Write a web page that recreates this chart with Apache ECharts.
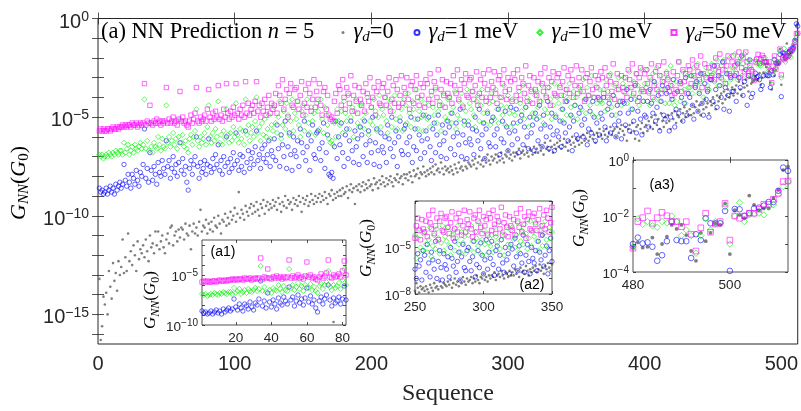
<!DOCTYPE html>
<html><head><meta charset="utf-8">
<script src="https://cdn.jsdelivr.net/npm/echarts@6/dist/echarts.min.js"></script>
<style>html,body{margin:0;padding:0;background:#fff}#c{width:801px;height:411px}</style>
</head><body><div id="c"></div>
<script>
// log10 of G_NN (in units of G0), sequence index = position + 1 (1..512)
const logG_gamma0 = [
-13.2,-16.3,-15.6,-14.1,-14.5,-13.9,-15.0,-12.8,-13.6,-14.2,-12.4,-13.3,-12.9,-13.8,-12.3,-13.0,
-12.6,-11.2,-12.9,-12.1,-12.8,-10.9,-12.3,-11.8,-12.5,-11.5,-12.0,-12.8,-11.3,-12.2,-11.7,-11.9,
-11.5,-12.1,-11.2,-11.8,-12.3,-11.0,-11.6,-11.4,-11.9,-10.8,-11.5,-10.8,-11.7,-11.3,-11.0,-11.6,
-11.9,-11.2,-10.9,-11.4,-10.6,-10.5,-11.5,-11.0,-10.8,-11.3,-10.7,-11.1,-10.6,-10.7,-11.2,-10.4,
-10.9,-11.0,-10.5,-11.7,-10.8,-10.4,-10.9,-10.6,-11.0,-10.3,-9.7,-10.8,-10.5,-10.6,-10.2,-10.9,
-10.4,-10.7,-10.3,-10.8,-10.1,-10.5,-10.6,-10.0,-10.4,-10.9,-10.2,-10.3,-9.9,-10.5,-10.1,-10.4,
-9.8,-10.2,-10.0,-9.6,-10.3,-9.9,-8.8,-10.1,-9.7,-9.9,-10.2,-9.5,-9.8,-10.0,-9.6,-9.4,
-9.9,-9.5,-9.8,-9.3,-9.7,-10.0,-9.4,-9.6,-9.2,-9.9,-9.5,-9.3,-9.7,-9.4,-9.6,-9.2,
-9.5,-9.3,-9.7,-9.1,-9.4,-9.8,-9.3,-9.5,-9.0,-9.6,-9.2,-9.4,-9.3,-9.7,-9.1,-9.4,
-9.2,-9.5,-9.0,-9.3,-9.8,-9.1,-9.4,-9.2,-9.0,-9.5,-9.3,-8.9,-9.2,-9.4,-9.0,-9.3,
-9.1,-8.9,-9.3,-9.0,-9.2,-8.8,-9.1,-9.4,-8.9,-9.0,-8.7,-9.2,-8.9,-9.1,-8.8,-9.0,
-8.7,-9.0,-8.6,-8.9,-8.8,-8.5,-9.1,-8.7,-8.4,-8.8,-8.6,-9.4,-8.5,-8.7,-8.4,-8.8,
-8.5,-8.3,-8.7,-8.4,-8.6,-8.2,-8.5,-8.4,-8.7,-8.1,-8.4,-8.3,-8.6,-8.2,-8.4,-8.0,
-8.3,-8.5,-8.1,-8.4,-8.2,-8.0,-8.3,-8.5,-8.1,-8.2,-7.9,-8.3,-8.1,-8.0,-8.4,-7.9,
-8.1,-7.9,-8.2,-7.8,-8.0,-8.3,-7.7,-8.0,-7.9,-7.6,-8.1,-7.8,-7.9,-7.5,-7.8,-8.0,
-7.7,-7.9,-7.6,-7.8,-7.5,-7.9,-7.4,-7.7,-7.6,-7.8,-7.3,-7.6,-7.9,-7.5,-7.7,-7.6,
-7.8,-7.5,-7.7,-7.9,-7.4,-7.6,-7.8,-7.3,-7.6,-7.5,-7.7,-7.2,-7.5,-7.6,-7.3,-7.4,
-7.5,-7.2,-7.4,-7.1,-7.6,-7.3,-7.0,-7.4,-7.2,-7.5,-7.1,-7.3,-6.9,-7.2,-7.4,-7.0,
-7.2,-7.1,-6.9,-7.3,-7.0,-7.2,-6.8,-7.1,-7.3,-6.9,-7.0,-6.7,-7.1,-6.9,-7.2,-6.8,
-7.0,-6.8,-6.9,-6.6,-7.1,-6.8,-6.7,-6.9,-6.5,-6.8,-7.0,-6.6,-6.7,-6.9,-6.5,-6.8,
-6.6,-6.8,-6.4,-6.7,-6.5,-6.9,-6.3,-6.6,-6.5,-6.7,-6.2,-6.5,-6.8,-6.4,-6.6,-6.3,
-6.5,-6.2,-6.6,-6.4,-6.1,-6.5,-6.3,-6.7,-6.2,-6.4,-6.0,-6.3,-6.5,-6.1,-6.2,-6.4,
-6.0,-6.3,-5.9,-6.2,-6.1,-5.8,-6.2,-6.0,-5.7,-6.1,-5.9,-6.3,-5.8,-6.0,-5.6,-5.9,
-6.1,-5.7,-5.9,-5.6,-6.0,-5.8,-5.5,-5.9,-5.7,-5.6,-6.0,-5.5,-5.8,-5.6,-5.4,-5.7,
-5.9,-5.5,-6.2,-5.6,-5.4,-5.8,-5.3,-5.7,-6.1,-5.5,-5.4,-6.2,-5.6,-5.3,-5.8,-5.5,
-5.4,-5.7,-5.2,-5.5,-5.0,-5.6,-5.3,-4.9,-5.4,-5.1,-5.6,-4.8,-5.2,-5.5,-5.0,-5.3,
-4.9,-5.2,-5.6,-4.8,-5.1,-4.7,-5.3,-4.9,-5.0,-4.6,-5.2,-4.8,-4.5,-5.0,-4.7,-4.9,
-4.6,-4.9,-4.4,-4.8,-4.5,-4.2,-4.7,-4.4,-4.9,-4.3,-4.6,-4.1,-4.5,-4.3,-4.8,-4.2,
-4.4,-4.0,-4.3,-4.6,-3.9,-4.2,-4.0,-3.8,-4.3,-3.7,-4.1,-3.9,-3.6,-4.0,-3.8,-3.5,
-3.9,-3.6,-3.4,-3.8,-3.2,-3.6,-3.9,-3.3,-3.5,-3.1,-3.4,-3.7,-3.0,-3.3,-3.2,-3.15,
-2.94,-3.13,-3.1,-2.77,-3.36,-3.0,-2.74,-2.32,-2.46,-2.32,-2.68,-3.25,-3.6,-2.6,-2.9,-2.6,
-2.26,-2.32,-1.55,-3.36,-1.79,-1.96,-2.08,-1.27,-1.6,-1.79,-1.73,-1.73,-1.35,-1.07,-0.36,-0.24
];
const logG_gamma1 = [
-8.6,-8.8,-8.7,-8.9,-8.8,-8.6,-8.9,-8.7,-8.5,-8.8,-8.6,-8.9,-8.4,-8.7,-8.5,-8.3,
-8.6,-8.4,-7.4,-8.2,-8.5,-7.9,-8.3,-8.6,-7.9,-8.1,-8.4,-7.7,-8.2,-8.5,-7.8,-8.0,
-7.4,-5.6,-8.1,-7.6,-8.3,-6.8,-7.7,-8.2,-7.5,-7.9,-8.4,-7.3,-7.8,-8.0,-7.2,-7.6,
-7.9,-6.2,-7.5,-7.2,-8.1,-7.6,-7.0,-7.8,-7.4,-8.0,-7.3,-6.3,-7.7,-7.1,-7.9,-7.5,
-8.3,-8.7,-7.6,-7.2,-7.9,-7.4,-7.0,-6.0,-7.5,-8.1,-7.3,-7.8,-7.6,-7.2,-7.9,-7.4,
-6.1,-7.5,-7.8,-7.1,-7.6,-6.9,-7.4,-6.4,-7.7,-7.2,-7.9,-7.0,-7.5,-6.0,-7.3,-7.8,
-7.1,-7.6,-6.8,-7.4,-5.8,-7.2,-7.7,-6.9,-7.5,-7.0,-7.8,-5.7,-7.3,-6.7,-7.6,-7.1,
-6.8,-7.4,-6.5,-5.7,-7.2,-6.9,-7.6,-6.6,-7.1,-6.4,-7.3,-6.9,-6.2,-7.5,-6.7,-7.0,
-6.1,-7.2,-5.4,-6.6,-7.5,-5.9,-6.4,-7.0,-5.2,-7.6,-6.5,-5.8,-6.9,-7.7,-6.0,-6.7,
-7.0,-6.2,-7.5,-5.6,-6.3,-6.8,-5.2,-7.2,-6.5,-5.9,-7.7,-6.2,-5.4,-6.9,-7.1,-5.8,
-5.7,-6.6,-7.2,-6.3,-5.3,-7.6,-6.8,-5.9,-7.9,-8.0,-7.8,-8.1,-6.5,-5.2,-7.1,-6.0,
-6.4,-5.3,-6.8,-7.5,-5.9,-5.6,-7.1,-6.2,-5.2,-6.7,-7.3,-5.7,-6.5,-6.1,-7.4,-5.5,
-5.9,-7.0,-5.2,-6.4,-7.3,-5.7,-6.2,-6.8,-5.0,-7.4,-6.3,-5.6,-6.7,-7.5,-5.8,-6.5,
-6.8,-6.0,-7.3,-5.4,-6.1,-6.6,-5.0,-7.0,-6.3,-5.7,-7.5,-6.0,-5.2,-6.7,-6.9,-5.6,
-5.4,-6.3,-6.9,-6.0,-5.0,-7.3,-6.5,-5.6,-6.7,-5.1,-5.9,-7.1,-6.2,-4.9,-6.8,-5.7,
-6.1,-5.0,-6.5,-7.2,-5.6,-5.3,-6.8,-5.9,-4.9,-6.4,-7.0,-5.4,-6.2,-5.8,-7.1,-5.2,
-5.5,-6.6,-4.8,-6.0,-6.9,-5.3,-5.8,-6.4,-4.6,-7.0,-5.9,-5.2,-6.3,-7.1,-5.4,-6.1,
-6.4,-5.6,-6.9,-5.0,-5.7,-6.2,-4.6,-6.6,-5.9,-5.3,-7.1,-5.6,-4.8,-6.3,-6.5,-5.2,
-5.0,-5.9,-6.5,-5.6,-4.6,-6.9,-6.1,-5.2,-6.3,-4.7,-5.5,-6.7,-5.8,-4.5,-6.4,-5.3,
-5.7,-4.6,-6.1,-6.8,-5.2,-4.9,-6.4,-5.5,-4.5,-6.0,-6.6,-5.0,-5.8,-5.4,-6.7,-4.8,
-5.1,-6.2,-4.4,-5.6,-6.5,-4.9,-5.4,-6.0,-4.2,-6.6,-5.5,-4.8,-5.9,-6.7,-5.0,-5.7,
-6.0,-5.2,-6.5,-4.6,-5.3,-5.8,-4.2,-6.2,-5.5,-4.9,-6.7,-5.2,-4.4,-5.9,-6.1,-4.8,
-4.5,-5.4,-6.0,-5.1,-4.1,-6.4,-5.6,-4.7,-5.8,-4.2,-5.0,-6.2,-5.3,-4.0,-5.9,-4.8,
-5.1,-4.0,-5.5,-6.2,-4.6,-4.3,-5.8,-4.9,-3.9,-5.4,-6.0,-4.4,-5.2,-4.8,-6.1,-4.2,
-4.3,-5.4,-3.6,-4.8,-5.7,-4.1,-4.6,-5.2,-3.4,-5.8,-4.7,-4.0,-5.1,-5.9,-4.2,-4.9,
-5.0,-4.2,-5.5,-3.6,-4.3,-4.8,-3.2,-5.2,-4.5,-3.9,-5.7,-4.2,-3.4,-4.9,-5.1,-3.8,
-3.5,-5.7,-5.0,-4.1,-3.1,-5.5,-4.6,-3.7,-4.8,-3.2,-4.0,-5.2,-4.3,-3.0,-4.9,-3.8,
-4.0,-2.9,-4.4,-5.1,-3.5,-3.2,-4.7,-3.8,-2.8,-4.3,-4.9,-3.3,-4.1,-3.7,-5.0,-3.1,
-3.1,-4.2,-2.4,-3.6,-4.5,-2.9,-3.4,-4.0,-2.2,-4.6,-3.5,-2.8,-3.9,-4.7,-3.0,-3.7,
-3.7,-2.9,-4.2,-2.3,-3.0,-3.5,-1.9,-3.9,-3.2,-2.6,-4.4,-2.9,-2.1,-4.0,-3.8,-3.0,
-2.77,-2.98,-2.94,-3.1,-3.6,-3.4,-2.9,-2.2,-2.86,-2.9,-2.9,-3.5,-2.65,-2.86,-2.08,-2.26,
-2.26,-2.26,-1.82,-3.96,-1.75,-1.76,-2.0,-1.9,-1.73,-1.7,-1.63,-1.5,-1.5,-1.1,-0.27,-0.39
];
const logG_gamma10 = [
-6.9,-7.0,-6.9,-7.1,-7.0,-6.9,-7.0,-6.8,-6.9,-7.0,-6.8,-6.9,-6.7,-6.8,-6.9,-6.7,
-6.7,-6.9,-6.3,-6.8,-6.6,-6.4,-6.9,-6.7,-6.5,-6.8,-6.4,-6.6,-6.7,-6.5,-6.3,-6.6,
-6.4,-4.1,-6.6,-6.2,-6.7,-5.3,-6.5,-6.8,-6.3,-6.5,-6.6,-6.0,-6.4,-6.7,-6.1,-6.5,
-6.6,-4.4,-6.3,-6.0,-6.5,-6.2,-5.8,-6.4,-6.1,-6.6,-6.0,-5.1,-6.3,-5.9,-6.5,-6.2,
-6.6,-6.8,-6.1,-5.9,-6.4,-6.0,-5.7,-4.6,-6.2,-6.5,-6.0,-6.3,-6.1,-5.8,-6.4,-5.5,
-4.4,-6.0,-6.3,-5.8,-6.2,-5.6,-6.0,-4.2,-6.3,-5.9,-6.4,-5.7,-6.1,-4.6,-5.9,-6.3,
-5.8,-6.2,-5.5,-6.0,-4.3,-5.9,-6.3,-5.6,-6.1,-5.7,-6.4,-4.1,-5.9,-5.4,-6.2,-5.8,
-5.5,-6.0,-5.2,-4.0,-5.8,-5.5,-6.2,-5.3,-5.9,-5.1,-6.0,-5.6,-4.9,-6.1,-5.4,-5.7,
-4.5,-5.3,-5.8,-5.0,-4.2,-6.1,-5.4,-4.7,-5.6,-4.3,-4.9,-5.9,-5.2,-4.1,-5.7,-4.8,
-5.1,-4.2,-5.4,-6.0,-4.7,-4.4,-5.7,-4.9,-4.1,-5.3,-5.8,-4.5,-5.2,-4.8,-5.9,-4.3,
-4.7,-5.6,-4.1,-5.1,-5.8,-4.5,-4.9,-5.4,-6.1,-6.3,-6.2,-6.4,-5.3,-6.0,-4.6,-5.2,
-5.4,-4.7,-5.8,-4.2,-4.8,-5.2,-3.9,-5.6,-5.0,-4.5,-6.0,-4.7,-4.1,-5.3,-5.5,-4.4,
-4.3,-5.1,-5.6,-4.8,-4.0,-5.9,-5.2,-4.5,-5.4,-4.1,-4.7,-5.7,-5.0,-3.9,-5.5,-4.6,
-4.9,-4.0,-5.2,-5.8,-4.5,-4.2,-5.5,-4.7,-3.9,-5.1,-5.6,-4.3,-5.0,-4.6,-5.7,-4.1,
-4.4,-5.3,-3.8,-4.8,-5.5,-4.2,-4.6,-5.1,-3.6,-5.6,-4.7,-4.1,-5.0,-5.7,-4.3,-4.9,
-5.1,-4.4,-5.5,-3.9,-4.5,-4.9,-3.6,-5.3,-4.7,-4.2,-5.7,-4.4,-3.8,-5.0,-5.2,-4.1,
-4.0,-4.8,-5.3,-4.5,-3.7,-5.6,-4.9,-4.2,-5.1,-3.8,-4.4,-5.4,-4.7,-3.6,-5.2,-4.3,
-4.6,-3.7,-4.9,-5.5,-4.2,-3.9,-5.2,-4.4,-3.6,-4.8,-5.3,-4.0,-4.7,-4.3,-5.4,-3.8,
-4.2,-5.1,-3.6,-4.6,-5.3,-4.0,-4.4,-4.9,-3.4,-5.4,-4.5,-3.9,-4.8,-5.5,-4.1,-4.7,
-4.9,-4.2,-5.3,-3.7,-4.3,-4.7,-3.4,-5.1,-4.5,-4.0,-5.5,-4.2,-3.6,-4.8,-5.0,-3.9,
-3.7,-4.5,-5.0,-4.2,-3.4,-5.3,-4.6,-3.9,-4.8,-3.5,-4.1,-5.1,-4.4,-3.3,-4.9,-4.0,
-4.3,-3.4,-4.6,-5.2,-3.9,-3.6,-4.9,-4.1,-3.3,-4.5,-5.0,-3.7,-4.4,-4.0,-5.1,-3.5,
-3.7,-4.6,-3.1,-4.1,-4.8,-3.5,-3.9,-4.4,-2.9,-4.9,-4.0,-3.4,-4.3,-5.0,-3.6,-4.2,
-4.3,-3.6,-4.7,-3.1,-3.7,-4.1,-2.8,-4.5,-3.9,-3.4,-4.9,-3.6,-3.0,-4.2,-4.4,-3.3,
-3.0,-3.8,-4.3,-3.5,-2.7,-4.6,-3.9,-3.2,-4.1,-2.8,-3.4,-4.4,-3.7,-2.6,-4.2,-3.3,
-3.5,-2.6,-3.8,-4.4,-3.1,-2.8,-4.1,-3.3,-2.5,-3.7,-4.2,-2.9,-3.6,-3.2,-4.3,-2.7,
-3.0,-4.3,-2.4,-3.4,-4.1,-4.4,-3.2,-3.7,-2.2,-4.2,-3.3,-2.7,-3.6,-4.3,-2.9,-3.5,
-3.5,-2.9,-3.8,-2.5,-3.0,-3.3,-2.3,-3.7,-3.2,-2.8,-4.0,-2.9,-2.5,-3.4,-3.6,-2.7,
-2.3,-2.8,-3.2,-2.6,-2.1,-3.4,-2.9,-2.4,-3.1,-2.1,-2.6,-3.3,-2.8,-2.0,-3.1,-2.5,
-2.5,-1.8,-2.7,-3.1,-2.2,-2.0,-2.9,-2.3,-1.8,-2.6,-3.0,-2.1,-2.5,-2.9,-3.0,-3.1,
-2.1,-2.3,-2.2,-2.35,-2.4,-2.2,-2.25,-2.0,-2.2,-2.7,-2.5,-2.7,-3.33,-2.7,-2.08,-2.5,
-2.2,-2.25,-1.67,-3.0,-2.0,-1.52,-2.2,-1.96,-1.94,-1.9,-1.96,-1.67,-1.6,-1.23,-0.95,-0.77
];
const logG_gamma50 = [
-5.7,-5.6,-5.7,-5.6,-5.7,-5.7,-5.6,-5.6,-5.7,-5.6,-5.5,-5.6,-5.6,-5.5,-5.6,-5.5,
-5.5,-5.4,-5.5,-5.4,-5.5,-5.4,-5.4,-5.5,-5.3,-5.4,-5.4,-5.3,-5.5,-5.4,-5.3,-5.4,
-5.3,-3.3,-5.4,-5.2,-5.3,-4.4,-5.3,-5.4,-5.2,-5.3,-5.1,-5.3,-5.2,-5.4,-5.2,-5.3,
-5.2,-3.5,-5.3,-5.1,-5.3,-5.2,-5.0,-5.3,-5.2,-5.4,-5.1,-3.7,-5.2,-5.0,-5.3,-5.2,
-5.4,-5.5,-5.2,-4.9,-5.3,-5.1,-4.8,-3.5,-5.2,-5.3,-5.0,-5.2,-5.1,-4.9,-5.2,-4.6,
-3.6,-5.0,-5.2,-4.8,-5.1,-4.7,-5.0,-3.4,-5.1,-4.9,-5.2,-4.6,-5.0,-3.3,-4.8,-5.1,
-4.7,-5.0,-4.5,-4.9,-3.3,-4.8,-5.1,-4.6,-4.9,-4.4,-5.0,-3.2,-4.8,-4.3,-4.9,-4.6,
-4.4,-4.8,-4.2,-3.2,-4.7,-4.4,-5.0,-4.3,-4.7,-4.1,-4.9,-4.5,-3.9,-4.8,-4.3,-4.6,
-4.4,-3.8,-4.8,-3.4,-3.9,-4.3,-3.1,-4.6,-4.1,-3.6,-5.0,-3.8,-3.3,-4.4,-4.5,-3.6,
-3.5,-4.2,-4.6,-3.9,-3.2,-4.9,-4.3,-3.6,-4.5,-3.3,-3.8,-4.7,-4.1,-3.1,-4.5,-3.7,
-4.1,-3.3,-4.4,-4.9,-3.7,-3.5,-4.6,-3.9,-4.9,-5.1,-5.0,-5.2,-4.2,-3.8,-4.8,-3.4,
-3.6,-4.4,-3.1,-4.0,-4.6,-3.5,-3.8,-4.3,-2.9,-4.7,-3.9,-3.4,-4.2,-4.8,-3.5,-4.1,
-4.4,-3.7,-4.7,-3.3,-3.8,-4.2,-3.0,-4.5,-4.0,-3.5,-4.9,-3.7,-3.2,-4.3,-4.4,-3.5,
-3.3,-4.0,-4.4,-3.7,-3.0,-4.7,-4.1,-3.4,-4.3,-3.1,-3.6,-4.5,-3.9,-2.9,-4.3,-3.5,
-3.8,-3.0,-4.1,-4.6,-3.4,-3.2,-4.3,-3.6,-2.9,-4.0,-4.4,-3.3,-3.9,-3.5,-4.5,-3.1,
-3.3,-4.1,-2.8,-3.7,-4.3,-3.2,-3.5,-4.0,-2.6,-4.4,-3.6,-3.1,-3.9,-4.5,-3.2,-3.8,
-4.0,-3.3,-4.3,-2.9,-3.4,-3.8,-2.6,-4.1,-3.6,-3.1,-4.5,-3.3,-2.8,-3.9,-4.0,-3.1,
-3.0,-3.7,-4.1,-3.4,-2.7,-4.4,-3.8,-3.1,-4.0,-2.8,-3.3,-4.2,-3.6,-2.6,-4.0,-3.2,
-3.5,-2.7,-3.8,-4.3,-3.1,-2.9,-4.0,-3.3,-2.6,-3.7,-4.1,-3.0,-3.6,-3.2,-4.2,-2.8,
-3.1,-3.9,-2.6,-3.5,-4.1,-3.0,-3.3,-3.8,-2.4,-4.2,-3.4,-2.9,-3.7,-4.3,-3.0,-3.6,
-3.9,-3.2,-4.2,-2.8,-3.3,-3.7,-2.5,-4.0,-3.5,-3.0,-4.4,-3.2,-2.7,-3.8,-3.9,-3.0,
-2.8,-3.5,-3.9,-3.2,-2.5,-4.2,-3.6,-2.9,-3.8,-2.6,-3.1,-4.0,-3.4,-2.4,-3.8,-3.0,
-3.4,-2.6,-3.7,-4.2,-3.0,-2.8,-3.9,-3.2,-2.5,-3.6,-4.0,-2.9,-3.5,-3.1,-4.1,-2.7,
-3.0,-3.8,-2.5,-3.4,-4.0,-2.9,-3.2,-3.7,-2.3,-4.1,-3.3,-2.8,-3.6,-4.2,-2.9,-3.5,
-3.7,-3.0,-4.0,-2.6,-3.1,-3.5,-2.3,-3.8,-3.3,-2.8,-4.2,-3.0,-2.5,-3.6,-3.7,-2.8,
-2.6,-3.3,-3.7,-3.0,-2.3,-4.0,-3.4,-2.7,-3.6,-2.4,-2.9,-3.8,-3.2,-2.2,-3.6,-2.8,
-3.1,-3.7,-3.4,-3.9,-2.7,-3.8,-3.6,-2.9,-2.2,-3.3,-3.7,-2.6,-3.2,-2.8,-3.8,-2.4,
-2.6,-3.3,-2.1,-2.9,-3.4,-2.4,-2.7,-3.1,-1.9,-3.5,-2.8,-2.3,-3.0,-3.6,-2.5,-3.0,
-2.9,-2.4,-3.1,-2.0,-2.4,-2.7,-1.8,-3.0,-2.6,-2.2,-3.3,-2.4,-1.9,-2.8,-2.9,-2.2,
-1.9,-2.4,-2.8,-2.2,-1.7,-3.0,-2.5,-2.0,-2.7,-1.7,-2.2,-2.9,-2.4,-2.6,-2.7,-3.15,
-2.2,-2.06,-1.82,-2.26,-2.06,-1.87,-1.99,-2.2,-2.2,-2.38,-2.2,-2.65,-3.25,-2.42,-1.9,-2.58,
-2.29,-2.2,-1.55,-2.86,-2.0,-2.08,-2.0,-1.9,-1.9,-1.76,-1.58,-1.58,-1.4,-1.19,-0.77,-0.75
];
const seriesNames = ['γd=0', 'γd=1 meV', 'γd=10 meV', 'γd=50 meV'];
const seriesValues = [logG_gamma0, logG_gamma1, logG_gamma10, logG_gamma50];

// main axes ticks
const mainXTicks = [0, 100, 200, 300, 400, 500];
const mainYLabelExps = [-15, -10, -5, 0];
// insets
const a1XTicks = [20, 40, 60, 80];
const a1YLabelExps = [-10, -5];
const a2XTicks = [250, 300, 350];
const a2YLabelExps = [-8, -5];
const a3XTicks = [480, 500];
const a3YLabelExps = [-4, -2, 0];

const AX = '#262626';
const SANS = 'Liberation Sans, Arial, sans-serif';
const SERIF = 'Liberation Serif, Times New Roman, serif';

const styles = [
  {symbol: 'circle', size: 2.6, itemStyle: {color: '#5e5e5e'}},
  {symbol: 'circle', size: 4.4, itemStyle: {color: 'rgba(255,255,255,0)', borderColor: '#0000ff', borderWidth: 0.75}},
  {symbol: 'diamond', size: 5.2, itemStyle: {color: 'rgba(255,255,255,0)', borderColor: '#00ee00', borderWidth: 0.75}},
  {symbol: 'rect', size: 4.4, itemStyle: {color: 'rgba(255,255,255,0)', borderColor: '#ff00ff', borderWidth: 0.75}}
];

function range(a, b) { const r = []; for (let i = a; i <= b; i++) r.push(i); return r; }
function pts(arr, lo, hi) {
  const out = [];
  arr.forEach((v, i) => { const s = i + 1; if (s >= lo && s <= hi) out.push([s, v]); });
  return out;
}
function supText(v) { return String(v).replace('-', '\u2212'); }

const grids = [
  {left: 98, top: 18.5, width: 700, height: 329.5},
  {left: 202, top: 240, width: 144, height: 85},
  {left: 415, top: 201, width: 137, height: 93},
  {left: 633, top: 160, width: 155, height: 112}
];
const xr = [[0, 512], [1, 82], [250, 350], [480, 512]];
const yr = [[-16.5, 0], [-10, -1.5], [-8, -2], [-4, 0]];
const xt = [mainXTicks, a1XTicks, a2XTicks, a3XTicks];
const yl = [mainYLabelExps, a1YLabelExps, a2YLabelExps, a3YLabelExps];
const fsTick = [20, 13.5, 13.5, 13.5];
const fsSup = [14, 10, 10, 10];
const supLH = [14, 8, 8, 8];
const tickLen = [6, 3, 3, 3];

const xAxes = [], yAxes = [], series = [];
grids.forEach((g, gi) => {
  const z = gi === 0 ? 0 : 11;
  const yTicks = range(Math.ceil(yr[gi][0]), Math.floor(yr[gi][1]));
  const tick = {show: true, inside: true, length: tickLen[gi], lineStyle: {color: AX, width: 0.8}};
  const base = {gridIndex: gi, type: 'value', z: z, axisLine: {show: false}, splitLine: {show: false}};
  xAxes.push(Object.assign({}, base, {
    position: 'bottom', min: xr[gi][0], max: xr[gi][1],
    axisTick: Object.assign({}, tick, {customValues: xt[gi]}),
    axisLabel: {customValues: xt[gi], color: AX, fontFamily: SANS, fontSize: fsTick[gi], margin: gi === 0 ? 10 : 6}
  }));
  xAxes.push(Object.assign({}, base, {
    position: 'top', min: xr[gi][0], max: xr[gi][1],
    axisTick: Object.assign({}, tick, {customValues: xt[gi]}),
    axisLabel: {show: false}
  }));
  const big = fsTick[gi], small = fsSup[gi];
  yAxes.push(Object.assign({}, base, {
    position: 'left', min: yr[gi][0], max: yr[gi][1],
    axisTick: Object.assign({}, tick, {customValues: yTicks}),
    axisLabel: {
      customValues: yl[gi], margin: gi === 0 ? 9 : 4, color: AX,
      padding: [gi === 0 ? 7 : 4, 0, 0, 0],
      formatter: v => '{b|10}{s|' + supText(v) + '}',
      rich: {
        b: {fontFamily: SANS, fontSize: big, color: AX, lineHeight: big + 4, verticalAlign: 'middle'},
        s: {fontFamily: SANS, fontSize: small, color: AX, lineHeight: supLH[gi], verticalAlign: 'top'}
      }
    }
  }));
  yAxes.push(Object.assign({}, base, {
    position: 'right', min: yr[gi][0], max: yr[gi][1],
    axisTick: Object.assign({}, tick, {customValues: yTicks}),
    axisLabel: {show: false}
  }));
  seriesValues.forEach((vals, si) => {
    const st = styles[si];
    series.push({
      name: seriesNames[si], type: 'scatter', xAxisIndex: gi * 2, yAxisIndex: gi * 2,
      symbol: st.symbol, symbolSize: gi === 3 ? st.size + 1.2 : st.size,
      itemStyle: st.itemStyle, z: gi === 0 ? 2 : 12, clip: true,
      emphasis: {disabled: true},
      data: pts(vals, Math.ceil(xr[gi][0]), Math.floor(xr[gi][1]))
    });
  });
});

const gridOpts = grids.map((g, gi) => Object.assign({}, g, {
  show: true, borderColor: AX, borderWidth: gi === 0 ? 1 : 0.8,
  backgroundColor: gi === 0 ? 'transparent' : '#ffffff', z: gi === 0 ? 0 : 10
}));

xAxes[0].name = 'Sequence';
xAxes[0].nameLocation = 'middle';
xAxes[0].nameGap = 38;
xAxes[0].nameTextStyle = {fontFamily: SERIF, fontSize: 24, color: AX};

const gnnRich = fs => ({
  i: {fontFamily: SERIF, fontStyle: 'italic', fontSize: fs, color: AX, lineHeight: fs + 4, verticalAlign: 'middle'},
  r: {fontFamily: SERIF, fontSize: fs, color: AX, lineHeight: fs + 4, verticalAlign: 'middle'},
  sub: {fontFamily: SERIF, fontStyle: 'italic', fontSize: Math.round(fs * 0.68), color: AX, lineHeight: 6, verticalAlign: 'bottom'},
  sub0: {fontFamily: SERIF, fontSize: Math.round(fs * 0.68), color: AX, lineHeight: 6, verticalAlign: 'bottom'}
});
const gnnText = '{i|G}{sub|NN}{r|(}{i|G}{sub0|0}{r|)}';
function gnnLabel(x, y, fs) {
  return {type: 'text', x: x, y: y, rotation: Math.PI / 2, z: 20,
    style: {text: gnnText, rich: gnnRich(fs), align: 'center', verticalAlign: 'middle'}};
}
function tag(x, y, t) {
  return {type: 'text', x: x, y: y, z: 20,
    style: {text: t, fontFamily: SANS, fontSize: 14, fill: '#000', align: 'center', verticalAlign: 'middle'}};
}

// one legend block per series so each icon sits where the reference puts it
const legendIconCenters = [343, 416, 539, 673];
const legendIconSizes = [3, 5, 5, 5];
const LFS = 22.5;
const legendRich = {
  g: {fontFamily: SERIF, fontStyle: 'italic', fontSize: LFS, color: '#000', lineHeight: 24, verticalAlign: 'middle', padding: [0, 0, 0, 4]},
  d: {fontFamily: SERIF, fontStyle: 'italic', fontSize: 15, color: '#000', lineHeight: 6, verticalAlign: 'bottom'},
  r: {fontFamily: SERIF, fontSize: LFS, color: '#000', lineHeight: 24, verticalAlign: 'middle'}
};
const legends = seriesNames.map((n, i) => ({
  data: [n], left: legendIconCenters[i] - legendIconSizes[i] / 2, top: 21,
  itemWidth: legendIconSizes[i], itemHeight: legendIconSizes[i], padding: 0,
  selectedMode: false,
  formatter: nm => '{g|γ}{d|d}{r|' + nm.slice(2) + '}',
  textStyle: {fontFamily: SERIF, fontSize: LFS, color: '#000', rich: legendRich}
}));

const option = {
  animation: false,
  backgroundColor: '#fff',
  grid: gridOpts,
  xAxis: xAxes,
  yAxis: yAxes,
  legend: legends,
  graphic: [
    {type: 'text', left: 101, top: 21, z: 20,
      style: {text: '{r|(a) NN Prediction }{i|n}{r| = 5}',
        rich: {r: {fontFamily: SERIF, fontSize: LFS, fill: '#000', lineHeight: 24},
               i: {fontFamily: SERIF, fontStyle: 'italic', fontSize: LFS, fill: '#000', lineHeight: 24}}}},
    gnnLabel(19, 183, 22),
    gnnLabel(151, 300, 17),
    gnnLabel(367, 248, 17),
    gnnLabel(580, 218, 17),
    tag(223, 252, '(a1)'),
    tag(532, 285, '(a2)'),
    tag(662, 185, '(a3)')
  ],
  series: series
};
const chart = echarts.init(document.getElementById('c'), null, {renderer: 'canvas'});
chart.setOption(option);
</script></body></html>
